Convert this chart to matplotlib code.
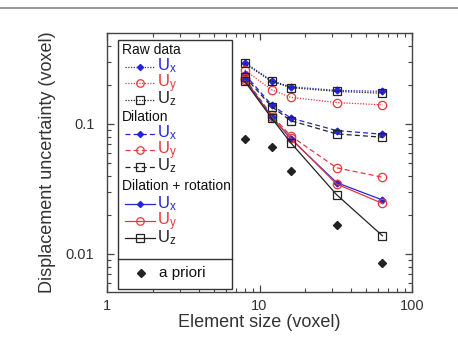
import numpy as np
import matplotlib
matplotlib.use("Agg")
import matplotlib.pyplot as plt
from matplotlib.lines import Line2D
from matplotlib.ticker import FixedLocator, FixedFormatter, LogLocator, NullFormatter

plt.rcParams["font.family"] = ["Liberation Sans", "DejaVu Sans"]
plt.rcParams["mathtext.fontset"] = "custom"
plt.rcParams["mathtext.rm"] = "Liberation Sans"
plt.rcParams["mathtext.it"] = "Liberation Sans"

# ---------------- data ----------------
element_size = [8, 12, 16, 32, 64]

raw_ux = [0.296, 0.215, 0.193, 0.181, 0.178]
raw_uy = [0.260, 0.183, 0.160, 0.146, 0.140]
raw_uz = [0.292, 0.212, 0.190, 0.178, 0.172]

dil_ux = [0.241, 0.140, 0.111, 0.0889, 0.0833]
dil_uy = [0.225, 0.117, 0.081, 0.046, 0.0389]
dil_uz = [0.231, 0.136, 0.106, 0.0838, 0.079]

rot_ux = [0.220, 0.114, 0.077, 0.0354, 0.0260]
rot_uy = [0.216, 0.113, 0.078, 0.0345, 0.0245]
rot_uz = [0.213, 0.111, 0.0718, 0.0286, 0.0138]

a_priori = [0.077, 0.0668, 0.0437, 0.0168, 0.0085]

xtick_vals = [1, 10, 100]
xtick_labels = ["1", "10", "100"]
ytick_vals = [0.01, 0.1]
ytick_labels = ["0.01", "0.1"]

# ---------------- style ----------------
BLUE = "#2424d8"
RED = "#e8383a"
BLACK = "#222222"
TXT = "#333333"

def lstyle(ls):
    if ls == "--":
        return (0, (4, 2.5))
    if ls == ":":
        return (0, (1, 1.2))
    return "-"

W, H = 458, 345
fig = plt.figure(figsize=(W / 100, H / 100), dpi=100)
fig.patch.set_facecolor("white")

L, R, T, B = 107, 412, 33, 292
ax = fig.add_axes([L / W, 1 - B / H, (R - L) / W, (B - T) / H])

# top grey rule
fig.add_artist(Line2D([0, 1], [1 - 7.5 / H, 1 - 7.5 / H], transform=fig.transFigure,
                      color="#888888", lw=1.2))

series = [
    (raw_ux, BLUE, ":", "D", BLUE),
    (raw_uy, RED, ":", "o", "none"),
    (raw_uz, BLACK, ":", "s", "none"),
    (dil_ux, BLUE, "--", "D", BLUE),
    (dil_uy, RED, "--", "o", "none"),
    (dil_uz, BLACK, "--", "s", "none"),
    (rot_ux, BLUE, "-", "D", BLUE),
    (rot_uy, RED, "-", "o", "none"),
    (rot_uz, BLACK, "-", "s", "none"),
]
msize = {"D": 3.5, "o": 6, "s": 6}
for vals, c, ls, m, fc in series:
    ax.plot(element_size, vals, color=c, ls=lstyle(ls), lw=0.9, marker=m, ms=msize[m],
            mfc=fc, mec=c, mew=0.9)

ax.plot(element_size, a_priori, ls="none", marker="D", ms=4, color=BLACK)

ax.set_xscale("log")
ax.set_yscale("log")
ax.set_xlim(1, 100)
ax.set_ylim(0.0051, 0.5)

ax.xaxis.set_major_locator(FixedLocator(xtick_vals))
ax.xaxis.set_major_formatter(FixedFormatter(xtick_labels))
ax.yaxis.set_major_locator(FixedLocator(ytick_vals))
ax.yaxis.set_major_formatter(FixedFormatter(ytick_labels))
ax.xaxis.set_minor_locator(LogLocator(base=10, subs=np.arange(2, 10)))
ax.yaxis.set_minor_locator(LogLocator(base=10, subs=np.arange(2, 10)))
ax.xaxis.set_minor_formatter(NullFormatter())
ax.yaxis.set_minor_formatter(NullFormatter())

ax.tick_params(which="both", direction="in", top=True, right=True, color="#444444",
               labelcolor=TXT, labelsize=10.5)
ax.tick_params(which="major", length=5, width=0.9)
ax.tick_params(which="minor", length=3, width=0.8)
ax.tick_params(axis="y", which="major", pad=9)
ax.tick_params(axis="x", which="major", pad=5)
for s in ax.spines.values():
    s.set_color("#444444")
    s.set_linewidth(1.0)

ax.set_xlabel("Element size (voxel)", fontsize=13, color=TXT, labelpad=1)
ax.set_ylabel("Displacement uncertainty (voxel)", fontsize=13, color=TXT, labelpad=7)

# ---------------- custom legend ----------------
def axc(px, py):
    return (px - L) / (R - L), (B - py) / (B - T)

tr = ax.transAxes
bx0, bx1, by0, bdiv, by1 = 118, 232, 40, 259, 289
x0, y0 = axc(bx0, by1)
x1, y1 = axc(bx1, by0)
ax.add_patch(plt.Rectangle((x0, y0), x1 - x0, y1 - y0, transform=tr, fill=True,
                           facecolor="white", edgecolor="#333333", lw=1.0, zorder=5))
ax.add_artist(Line2D([x0, x1], [axc(0, bdiv)[1]] * 2, transform=tr, color="#333333",
                     lw=1.0, zorder=6))

groups = [
    ("Raw data", 50, [66.5, 83, 99.5], series[0:3]),
    ("Dilation", 117, [133.5, 150, 166.5], series[3:6]),
    ("Dilation + rotation", 186, [204, 221, 238], series[6:9]),
]
subs = ["x", "y", "z"]
for title, ty, rows, sers in groups:
    ax.text(*axc(122, ty), title, transform=tr, fontsize=10, color="#111111",
            va="center", ha="left", zorder=7)
    for ry, (vals, c, ls, m, fc), sub in zip(rows, sers, subs):
        xa, ya = axc(125, ry)
        xb, _ = axc(155, ry)
        ax.add_artist(Line2D([xa, xb], [ya, ya], transform=tr, color=c, ls=lstyle(ls),
                             lw=0.9, zorder=7))
        xm, _ = axc(140, ry)
        ax.add_artist(Line2D([xm], [ya], transform=tr, ls="none", marker=m,
                             ms=msize[m] * 0.9, mfc=fc, mec=c, mew=0.9, zorder=8))
        ax.text(*axc(157, ry + 4), r"$\mathregular{U_%s}$" % sub, transform=tr,
                fontsize=12, color=c, va="baseline", ha="left", zorder=7)

ax.add_artist(Line2D([axc(141, 0)[0]], [axc(0, 273)[1]], transform=tr, ls="none",
                     marker="D", ms=4, color=BLACK, zorder=8))
ax.text(*axc(159, 273), "a priori", transform=tr, fontsize=11, color="#111111",
        va="center", ha="left", zorder=7)

fig.savefig("out.png", dpi=100, facecolor="white")
